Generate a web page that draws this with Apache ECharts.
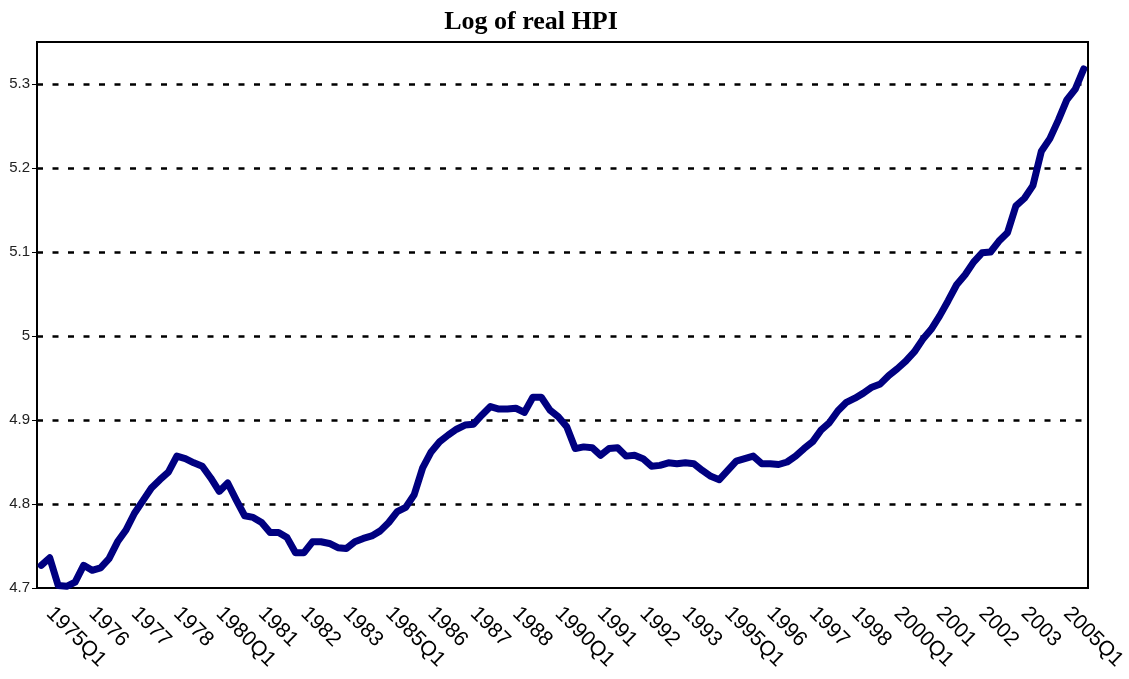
<!DOCTYPE html>
<html>
<head>
<meta charset="utf-8">
<script src="https://cdn.jsdelivr.net/npm/echarts@6/dist/echarts.min.js"></script>
<style>
  html, body { margin: 0; padding: 0; background: #fff; overflow: hidden; }
  #chart { width: 1129px; height: 679px; }
</style>
</head>
<body>
<div id="chart"></div>
<script>
// quarterly, 1975Q1 .. 2005Q4
const quarters = [];
for (let y = 1975; y <= 2005; y++) {
  for (let q = 1; q <= 4; q++) quarters.push(y + 'Q' + q);
}

// labels shown under every 5th quarter, as in the original
const tickLabels = ['1975Q1', '1976', '1977', '1978', '1980Q1', '1981', '1982', '1983',
  '1985Q1', '1986', '1987', '1988', '1990Q1', '1991', '1992', '1993',
  '1995Q1', '1996', '1997', '1998', '2000Q1', '2001', '2002', '2003', '2005Q1'];

// log of real HPI
const logHpi = [
  4.727, 4.736, 4.703, 4.702, 4.707, 4.727, 4.721, 4.724, 4.735, 4.755,
  4.769, 4.789, 4.804, 4.819, 4.829, 4.838, 4.857, 4.854, 4.849, 4.845,
  4.831, 4.815, 4.825, 4.805, 4.786, 4.784, 4.778, 4.766, 4.766, 4.760,
  4.742, 4.742, 4.755, 4.755, 4.753, 4.748, 4.747, 4.755, 4.759, 4.762,
  4.768, 4.778, 4.791, 4.796, 4.811, 4.843, 4.862, 4.874, 4.882, 4.889,
  4.894, 4.895, 4.906, 4.916, 4.913, 4.913, 4.914, 4.909, 4.927, 4.927,
  4.912, 4.904, 4.892, 4.866, 4.868, 4.867, 4.858, 4.866, 4.867, 4.857,
  4.858, 4.854, 4.845, 4.846, 4.849, 4.848, 4.849, 4.848, 4.840, 4.833,
  4.829, 4.840, 4.851, 4.854, 4.857, 4.848, 4.848, 4.847, 4.850, 4.857,
  4.866, 4.874, 4.888, 4.897, 4.911, 4.921, 4.926, 4.932, 4.939, 4.943,
  4.953, 4.961, 4.970, 4.981, 4.996, 5.008, 5.024, 5.042, 5.061, 5.073,
  5.088, 5.099, 5.100, 5.113, 5.123, 5.155, 5.164, 5.179, 5.220, 5.235,
  5.257, 5.281, 5.294, 5.318
];

const chart = echarts.init(document.getElementById('chart'));

chart.setOption({
  animation: false,
  backgroundColor: '#fff',
  title: {
    text: 'Log of real HPI',
    left: 526,
    top: 4,
    textAlign: 'center',
    textStyle: {
      fontFamily: '"Liberation Serif", "Times New Roman", serif',
      fontWeight: 'bold',
      fontSize: 26,
      color: '#000'
    }
  },
  grid: {
    left: 37,
    right: 41,
    top: 42,
    bottom: 91,
    outerBoundsMode: 'none',
    show: true,
    borderColor: '#000',
    borderWidth: 2,
    backgroundColor: '#fff'
  },
  xAxis: {
    type: 'category',
    data: quarters,
    boundaryGap: true,
    axisLine: { lineStyle: { color: '#000', width: 2 } },
    axisTick: {
      interval: 0,
      length: 6,
      lineStyle: { color: '#777', width: 1 }
    },
    axisLabel: {
      interval: 4,
      rotate: -45,
      margin: 14,
      padding: [0, 0, 0, 12],
      fontFamily: '"Liberation Sans", Arial, sans-serif',
      fontSize: 21,
      color: '#000',
      formatter: (val, idx) => tickLabels[idx / 5] || ''
    },
    splitLine: { show: false }
  },
  yAxis: {
    type: 'value',
    min: 4.7,
    max: 5.35,
    interval: 0.1,
    axisLine: { show: true, lineStyle: { color: '#000', width: 2 } },
    axisTick: { show: true, length: 5, lineStyle: { color: '#000', width: 1 } },
    axisLabel: {
      showMaxLabel: false,
      margin: 7,
      fontFamily: '"Liberation Sans", Arial, sans-serif',
      fontSize: 15,
      color: '#222',
      formatter: v => {
        const t = Math.round(v * 10);
        return Math.abs(v * 10 - t) < 1e-6 ? String(t / 10) : '';
      }
    },
    splitLine: {
      show: true,
      showMinLine: false,
      showMaxLine: false,
      lineStyle: { color: '#000', width: 2.5, type: [6, 9.5] }
    }
  },
  series: [{
    type: 'line',
    data: logHpi,
    showSymbol: false,
    lineStyle: { color: '#000080', width: 7, join: 'round', cap: 'round' },
    z: 3
  }]
});
</script>
</body>
</html>
